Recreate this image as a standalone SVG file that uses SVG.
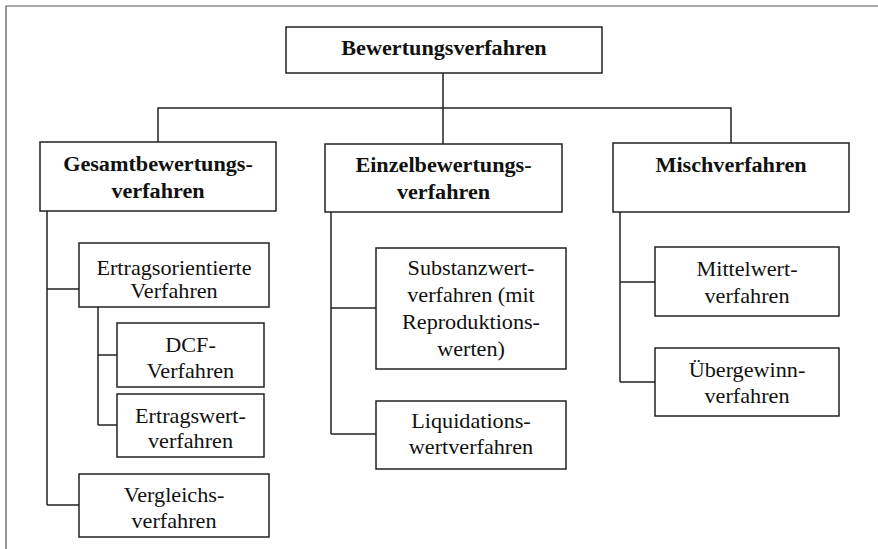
<svg xmlns="http://www.w3.org/2000/svg" width="878" height="549" viewBox="0 0 878 549">
<style>
.frame{fill:none;stroke:#555;stroke-width:1.2}
.box{fill:#fff;stroke:#222;stroke-width:1.5}
.conn{fill:none;stroke:#222;stroke-width:1.5}
text{font-family:'Liberation Serif',serif;font-size:20px;fill:#111;text-anchor:middle}
.b{font-weight:bold}
</style>
<rect x="0" y="0" width="878" height="549" fill="#fff"/>
<path class="frame" d="M6,549 V6 H878"/>
<g id="connectors">
<path class="conn" d="M443,73 V108 M158,143 V108 H731 V143 M443,108 V144"/>
<path class="conn" d="M47,211 V505 M47,289 H79 M47,505 H79"/>
<path class="conn" d="M98,307 V425 M98,355 H117 M98,425 H117"/>
<path class="conn" d="M331,212 V434 M331,308 H376 M331,434 H376"/>
<path class="conn" d="M620,212 V382 M620,282 H655 M620,382 H655"/>
</g>
<g font-family="Liberation Serif, serif">
<g id="n-bewertungsverfahren">
<rect class="box" x="286" y="27" width="316" height="46"/>
<g transform="translate(444 0) scale(1.11 1)"><text class="b" x="0" y="55">Bewertungsverfahren</text></g>
</g>
<g id="n-gesamt">
<rect class="box" x="40" y="142" width="236" height="69"/>
<g transform="translate(158 0) scale(1.11 1)"><text class="b" x="0" y="171">Gesamtbewertungs-</text><text class="b" x="0" y="198">verfahren</text></g>
</g>
<g id="n-einzel">
<rect class="box" x="325" y="144" width="237" height="68"/>
<g transform="translate(443.5 0) scale(1.11 1)"><text class="b" x="0" y="172">Einzelbewertungs-</text><text class="b" x="0" y="199">verfahren</text></g>
</g>
<g id="n-misch">
<rect class="box" x="613" y="143" width="236" height="69"/>
<g transform="translate(731 0) scale(1.11 1)"><text class="b" x="0" y="172">Mischverfahren</text></g>
</g>
<g id="n-ertragsorientiert">
<rect class="box" x="79" y="243" width="190" height="64"/>
<g transform="translate(174 0) scale(1.11 1)"><text x="0" y="275">Ertragsorientierte</text><text x="0" y="298">Verfahren</text></g>
</g>
<g id="n-dcf">
<rect class="box" x="117" y="323" width="147" height="64"/>
<g transform="translate(190.5 0) scale(1.11 1)"><text x="0" y="352">DCF-</text><text x="0" y="378">Verfahren</text></g>
</g>
<g id="n-ertragswert">
<rect class="box" x="117" y="394" width="147" height="63"/>
<g transform="translate(190.5 0) scale(1.11 1)"><text x="0" y="423">Ertragswert-</text><text x="0" y="448">verfahren</text></g>
</g>
<g id="n-vergleichs">
<rect class="box" x="79" y="474" width="190" height="63"/>
<g transform="translate(174 0) scale(1.11 1)"><text x="0" y="502">Vergleichs-</text><text x="0" y="528">verfahren</text></g>
</g>
<g id="n-substanzwert">
<rect class="box" x="376" y="248" width="190" height="121"/>
<g transform="translate(471 0) scale(1.11 1)"><text x="0" y="275">Substanzwert-</text><text x="0" y="302">verfahren (mit</text><text x="0" y="329">Reproduktions-</text><text x="0" y="356">werten)</text></g>
</g>
<g id="n-liquidation">
<rect class="box" x="376" y="401" width="190" height="68"/>
<g transform="translate(471 0) scale(1.11 1)"><text x="0" y="428">Liquidations-</text><text x="0" y="454">wertverfahren</text></g>
</g>
<g id="n-mittelwert">
<rect class="box" x="655" y="247" width="184" height="69"/>
<g transform="translate(747 0) scale(1.11 1)"><text x="0" y="276">Mittelwert-</text><text x="0" y="303">verfahren</text></g>
</g>
<g id="n-uebergewinn">
<rect class="box" x="655" y="348" width="184" height="68"/>
<g transform="translate(747 0) scale(1.11 1)"><text x="0" y="377">Übergewinn-</text><text x="0" y="403">verfahren</text></g>
</g>
</g>
</svg>
